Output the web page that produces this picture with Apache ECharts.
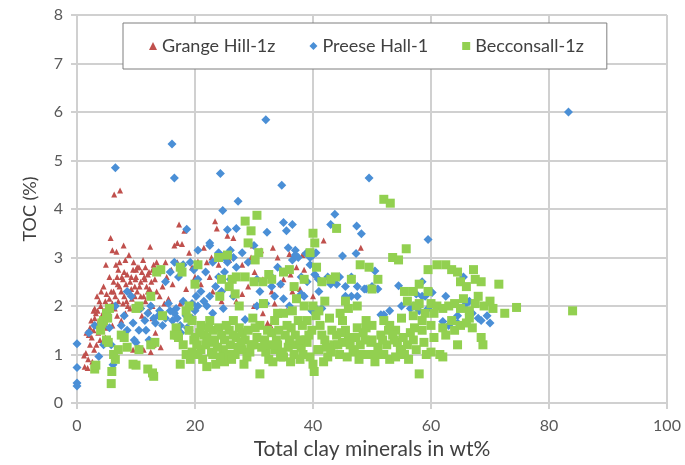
<!DOCTYPE html>
<html>
<head>
<meta charset="utf-8">
<script src="https://cdn.jsdelivr.net/npm/echarts@6/dist/echarts.min.js"></script>
<style>html,body{margin:0;padding:0;background:#fff;}#c{width:685px;height:465px;}</style>
</head>
<body>
<div id="c"></div>
<script>
// Series names
const seriesNames = ["Grange Hill-1z", "Preese Hall-1", "Becconsall-1z"];
// Axis tick values
const xTicks = [0, 20, 40, 60, 80, 100];
const yTicks = [0, 1, 2, 3, 4, 5, 6, 7, 8];

// [total clay wt%, TOC %]
const grangeHill = [
[1.2,0.98],[1.5,1.03],[1.3,0.75],[1.8,0.72],[2.6,0.85],[2.2,1.2],[2.5,1.35],[2.0,1.4],[1.6,1.45],[2.2,1.55],[2.8,1.5],[3.3,1.2],[3.6,1.45],[3.0,1.75],[3.2,1.85],[3.5,1.9],[3.0,1.95],[3.8,1.7],[4.0,2.0],[4.2,1.8],[4.3,1.5],[4.8,1.35],[3.8,2.1],[4.5,2.4],[4.8,2.1],[5.0,2.25],[5.3,1.95],[5.2,1.8],[5.0,1.55],[5.5,2.15],[5.8,2.3],[6.0,2.05],[6.0,1.6],[6.2,2.5],[6.4,1.95],[6.5,2.2],[6.8,2.6],[7.0,2.1],[7.0,2.75],[7.2,2.4],[7.2,2.9],[7.5,2.3],[7.5,1.7],[7.8,2.55],[7.8,2.05],[8.0,2.2],[8.2,1.85],[8.3,2.45],[8.5,2.65],[8.6,2.0],[8.8,2.3],[9.0,2.5],[9.0,1.95],[9.3,2.15],[9.5,2.75],[9.6,2.9],[9.8,2.4],[9.8,2.2],[10.0,2.6],[10.2,2.3],[10.2,2.8],[10.5,2.8],[10.5,2.0],[10.8,2.5],[11.0,2.7],[11.0,1.8],[11.2,2.95],[11.3,2.2],[11.5,2.55],[11.6,2.1],[11.8,2.4],[12.0,2.65],[12.0,2.3],[12.3,2.35],[12.6,2.5],[12.8,2.0],[12.8,2.75],[13.0,2.85],[13.2,2.55],[13.5,2.3],[13.5,2.9],[13.8,2.7],[14.0,1.95],[14.5,2.4],[14.8,2.05],[15.2,2.6],[15.5,2.15],[16.2,2.45],[17.5,2.05],[9.5,1.1],[10.5,1.15],[11.3,1.1],[12.5,1.05],[13.0,1.2],[14.2,1.15],[5.5,2.6],[4.9,2.85],[5.7,3.4],[6.0,3.15],[6.7,3.12],[7.9,3.25],[8.8,3.05],[6.3,4.3],[7.3,4.38],[12.4,3.22],[16.5,3.25],[17.0,3.3],[17.3,3.68],[17.8,3.28],[18.2,3.55],[18.5,2.35],[19.5,2.8],[20.5,2.92],[21.0,2.45],[21.5,3.2],[22.0,2.9],[22.5,2.6],[22.8,3.0],[23.4,3.75],[23.7,3.6],[24.0,2.85],[24.5,2.1],[25.5,2.4],[25.5,3.45],[25.8,2.95],[27.2,2.6],[28.0,2.85],[28.0,2.25],[29.0,2.4],[29.8,3.25],[30.0,2.0],[30.1,2.7],[31.2,3.15],[31.5,2.55],[31.5,1.85],[32.3,1.65],[32.8,1.6],[33.0,2.3],[33.2,3.2],[33.5,2.05],[34.5,2.45],[35.0,2.55],[36.0,3.07],[36.2,2.65],[37.2,2.8],[37.8,2.35],[38.2,3.05],[38.5,2.75],[40.0,2.2],[41.8,3.35],[48.1,3.2],[8.0,2.7],[9.2,2.6],[10.8,2.2],[6.8,1.8],[3.4,1.6],[4.6,1.9],[12.2,1.9],[14.0,2.2],[15.0,2.9],[16.0,2.75],[17.0,2.9],[19.0,3.1],[20.0,2.6],[23.0,2.3],[26.5,3.4],[27.0,2.1],[29.5,3.0],[34.0,3.0],[36.5,2.3],[40.5,2.65],[35.5,1.9],
[2.4,1.7],[2.8,1.9],[3.4,2.2],[4.1,2.3],[5.6,2.0],[6.2,2.3],[6.9,2.45],[7.6,2.6],[8.4,2.1],[9.2,2.35],[9.9,2.55],[10.6,2.4],[11.4,2.6],[12.2,2.7],[6.6,2.85],[8.2,2.95],[10.0,2.75],[11.6,2.8],[3.9,1.3],[1.9,0.9],[2.9,1.1],[13.3,1.45],[12.8,1.75]
];

const preeseHall = [
[0,1.22],[0,0.73],[0,0.41],[0,0.35],[3.7,0.96],[6.1,0.79],[2.0,1.45],[3.0,1.6],[4.5,1.2],[4.8,1.7],[5.5,1.55],[5.8,1.2],[6.5,2.0],[6.5,4.85],[7.5,1.6],[8.0,1.8],[8.5,1.5],[8.5,2.3],[9.2,2.2],[9.5,1.65],[9.7,1.3],[10.0,1.25],[10.5,1.5],[10.8,1.95],[11.5,1.7],[11.7,1.5],[12.0,1.85],[12.2,1.3],[12.5,2.0],[13.0,1.75],[13.3,1.65],[13.8,1.8],[14.0,1.9],[14.5,1.6],[15.0,1.75],[15.0,2.5],[15.5,2.05],[15.8,1.9],[15.8,2.7],[16.1,5.34],[16.5,4.64],[16.2,1.7],[16.5,1.85],[16.5,2.9],[16.8,1.95],[17.0,1.75],[17.2,2.6],[17.5,1.6],[17.6,1.45],[18.0,2.1],[18.0,2.85],[18.5,1.8],[18.6,3.58],[18.7,1.55],[19.0,1.5],[19.2,2.9],[19.5,2.05],[19.5,1.75],[19.8,2.75],[20.0,1.9],[20.2,2.2],[20.5,2.55],[20.5,3.15],[20.5,2.0],[21.0,2.3],[21.5,2.1],[21.8,2.7],[22.0,2.0],[22.5,2.2],[22.5,3.25],[22.5,3.3],[23.0,1.85],[23.0,2.9],[23.5,2.4],[24.0,2.6],[24.0,3.1],[24.3,4.73],[24.5,2.3],[24.7,3.97],[24.8,1.95],[25.0,2.7],[25.0,3.0],[25.5,2.9],[25.5,3.57],[26.0,2.55],[26.0,3.15],[26.5,3.0],[26.5,2.2],[27.0,2.8],[27.0,3.6],[27.3,4.16],[28.0,3.1],[28.5,1.72],[29.0,2.9],[30.0,3.25],[30.5,2.0],[30.5,2.55],[31.0,2.3],[32.0,5.84],[32.0,2.05],[32.2,3.52],[33.0,2.6],[33.0,2.4],[33.5,2.2],[34.0,2.8],[34.5,2.45],[34.7,4.49],[35.0,3.72],[35.0,2.15],[35.5,3.55],[35.8,3.2],[36.0,2.0],[36.5,3.68],[36.5,2.95],[37.0,3.05],[37.0,3.15],[37.5,3.0],[38.0,2.6],[38.0,2.25],[38.5,2.2],[38.8,3.08],[39.0,2.5],[39.5,2.85],[39.5,3.0],[39.8,1.9],[40.0,3.05],[40.3,2.65],[40.5,3.1],[40.5,1.95],[40.9,2.55],[41.0,2.3],[41.5,1.95],[42.5,2.6],[43.0,3.68],[43.0,2.45],[43.7,3.89],[44.0,2.45],[44.5,2.6],[45.0,3.03],[45.5,2.2],[45.5,2.4],[46.5,2.6],[46.5,2.2],[47.3,3.08],[47.4,3.65],[47.5,2.2],[47.5,2.4],[48.2,3.49],[48.7,2.35],[49.0,2.35],[49.5,4.64],[50.0,2.4],[50.5,2.72],[51.0,2.35],[51.5,1.82],[52.0,1.82],[53.0,1.9],[54.5,2.42],[55.0,2.0],[56.5,1.95],[57.0,2.0],[57.5,2.25],[58.0,1.9],[58.5,2.5],[58.5,2.2],[59.0,2.2],[59.5,3.37],[59.5,1.95],[60.2,2.28],[62.0,1.68],[62.5,2.2],[63.0,1.6],[64.5,1.65],[64.5,1.8],[65.5,2.6],[66.0,2.05],[66.5,2.1],[67.0,1.85],[68.0,1.75],[68.5,1.7],[69.5,1.8],[70.0,1.65],[83.3,6.0]
];

const becconsall = [
[3,0.7],[3.2,0.78],[4,1.5],[4.2,1.65],[4.5,1.7],[5,1.85],[5.2,1.75],[5.5,1.95],[5,1.3],[5.3,1.25],[5.8,0.4],[5.9,0.65],[6.2,1.0],[6.5,0.9],[7,1.1],[7.5,1.4],[8,1.35],[8.5,1.15],[9.5,0.8],[10,0.78],[10.5,1.1],[10,1.95],[10.5,2.0],[12,0.7],[12.5,1.2],[13,0.55],[13.2,1.25],[12.8,0.62],[12.5,2.2],[13.5,2.7],[14.2,2.75],[14.5,1.8],[16.5,1.4],[16.8,1.55],[17,1.4],[17.2,1.35],[17.5,2.8],[17.5,0.8],[17.8,2.7],
[18.5,1.9],[18.8,1.75],[19,2.0],[18.5,1.0],[19,1.5],[19.5,1.05],[19.8,1.3],[20,1.35],[20.5,2.85],[20.5,1.0],[21,1.1],[21,1.6],[21.5,1.4],[21.8,1.2],[22,0.75],[22,1.35],[22.5,1.25],[22.8,1.05],[23,1.0],[23,1.5],[23.3,1.3],[23.5,0.8],[24,1.55],[24,3.0],[24.2,2.2],[24.5,1.4],[24.5,2.55],[24.8,1.1],[25,0.85],[25,1.3],[25.5,3.05],[25.5,1.0],[25.8,1.5],[26,1.2],[26.3,2.55],[26.5,1.4],[26.8,1.0],[27,1.35],[27,2.6],[27.3,1.15],[27.5,1.55],[28,1.1],[28,1.45],[28.5,3.75],[28.5,1.3],[28.8,0.95],[29,1.5],[29,3.3],[29.5,3.55],[29.5,1.2],[30,1.2],[30,2.5],[30.5,3.87],[30.5,1.35],[30.8,3.1],[31,0.6],[31,1.6],
[31.5,2.5],[31.8,1.3],[32,1.05],[32.3,1.5],[32.5,0.9],[33,1.45],[33,2.55],[33.5,1.1],[33.8,1.3],[34,1.2],[34,1.85],[34.5,0.95],[35,0.95],[35,1.85],[35,2.7],[35.3,1.4],[35.8,1.15],[36,1.3],[36,2.75],[36.5,1.9],[36.8,1.0],[37,1.4],[37.2,1.2],[37.5,1.7],[37.8,0.9],[38,1.15],[38.5,2.0],[38.5,2.55],[38.8,1.3],[39,1.25],[39,1.7],[39.5,0.95],[39.8,1.5],[40,0.8],[40,2.0],[40,3.5],[40.2,0.65],[40.3,3.3],[40.5,1.8],[40.8,1.1],[41,1.1],[41,1.9],[41.5,1.4],[42,1.3],[42,2.1],[42.5,0.95],[43,1.05],[43,2.55],[43.5,1.2],[43.8,2.6],[44,1.4],[44,3.6],[44.5,1.0],[45,1.25],[45,1.7],
[45.5,1.5],[46,1.35],[46,1.95],[46.5,2.55],[46.8,1.1],[47,1.05],[47.5,1.55],[47.8,0.9],[48,1.2],[48,2.85],[48.5,1.45],[49,1.55],[49.5,1.0],[49.5,2.8],[49.8,1.25],[50,1.3],[50,1.6],[50,2.35],[50.5,0.85],[51,1.15],[51,2.55],[51.5,1.4],[52,1.0],[52,1.7],[52,4.2],[52.5,1.2],[53,0.9],[53,1.6],[53.1,4.12],[53.5,3.0],[53.8,1.3],[54,0.95],[54,1.5],[54.5,2.95],[54.8,1.1],[55,1.1],[55,1.75],[55.5,2.3],[55.8,3.18],[56,1.2],[56,2.1],[56.5,1.45],[57,2.3],[57,1.8],[57.5,1.1],[57.5,2.0],[58,0.6],[58,2.05],[58,2.45],[58.5,1.5],[59,1.85],[59.5,2.75],[60,1.05],[60,1.6],[60,2.05],
[61,2.0],[61,2.85],[61.5,1.0],[62,0.95],[62,1.55],[62,1.95],[62.5,1.4],[62.5,2.85],[63,2.0],[63.5,2.75],[64,1.5],[64,2.05],[64.5,2.7],[65,1.6],[65,2.5],[65.5,2.15],[66,1.65],[66,2.4],[66.5,1.9],[67.2,2.75],[67.5,2.55],[67.5,2.05],[68,2.2],[68.5,2.5],[68.5,1.35],[68.8,1.2],[69,2.0],[70,2.1],[70.5,1.95],[71.5,2.45],[72.5,1.85],[74.5,1.97],[84,1.9],
[58.5,1.7],[59.5,2.3],[60.5,1.85],[63.5,1.7],[65,1.95],[66.5,1.75],[67,1.55],[64.5,1.2],[60.5,1.35],[57,1.3],[55.5,1.0],[53.5,1.4],[49,1.7],[47.5,2.0],
[18,1.2],[19.2,0.9],[20.3,1.2],[20.8,1.45],[21.3,0.9],[22.3,1.55],[23.8,1.15],[24.3,0.95],[25.3,1.6],[26.2,0.9],[27.8,1.25],[28.3,0.8],[29.3,1.05],[30.2,1.55],[31.3,1.15],[32.8,1.2],[33.2,0.85],[34.2,1.5],[34.8,1.05],[36.3,1.55],[36.2,0.85],[37.8,1.3],[38.3,1.0],[39.3,1.4],[41.2,1.6],[41.8,0.85],[42.3,1.15],[43.2,1.5],[44.2,1.2],[44.8,1.45],[45.8,0.95],[46.3,1.2],[47.2,1.35],[48.2,1.0],[48.8,1.3],[50.8,1.0],[51.8,1.3],[52.8,1.5],[54.3,1.25],[55.3,1.35],[56.2,0.9],[57.2,1.55],[58.8,1.25],[59.2,1.0],[19.5,1.7],[22.5,1.7],[26.5,1.7],[29.8,1.75],[33.5,1.7],[35.6,1.6],[38.2,1.6],[42.8,1.75],[44.6,1.85],[27.5,2.0],[31.6,2.05],[32.5,2.65],[37.2,2.15],[41.5,2.5],[45.5,2.1],[39.5,3.1],[40.6,2.8],[36.8,2.4],[26.8,2.25],[25.8,2.4],[28.5,2.6],[30.2,2.95],[20,2.45]
];

const FONT = 'Lato, "Open Sans", sans-serif';
const gridColor = '#d0d0d0';
const chart = echarts.init(document.getElementById('c'), null, {renderer: 'canvas'});
chart.setOption({
  animation: false,
  backgroundColor: '#ffffff',
  textStyle: {fontFamily: FONT},
  grid: {left: 77, right: 18, top: 15, bottom: 61, containLabel: false},
  legend: {
    left: 123, top: 23,
    padding: [14, 23, 14, 26],
    itemGap: 34, itemWidth: 8, itemHeight: 8,
    borderColor: '#7f7f7f', borderWidth: 1,
    backgroundColor: '#ffffff',
    textStyle: {fontSize: 18, color: '#404040', fontFamily: FONT},
    data: seriesNames
  },
  xAxis: {
    type: 'value', min: xTicks[0], max: xTicks[xTicks.length - 1], interval: xTicks[1] - xTicks[0],
    name: 'Total clay minerals in wt%', nameLocation: 'middle', nameGap: 36,
    nameTextStyle: {fontSize: 21, color: '#404040', fontFamily: FONT},
    axisLine: {show: true, lineStyle: {color: gridColor, width: 2}},
    axisTick: {show: true, length: 6, lineStyle: {color: gridColor, width: 2}},
    axisLabel: {fontSize: 16, color: '#595959', margin: 15, fontFamily: FONT},
    splitLine: {show: true, lineStyle: {color: gridColor, width: 2}}
  },
  yAxis: {
    type: 'value', min: yTicks[0], max: yTicks[yTicks.length - 1], interval: yTicks[1] - yTicks[0],
    name: 'TOC (%)', nameLocation: 'middle', nameGap: 38, nameRotate: 90,
    nameTextStyle: {fontSize: 18, color: '#404040', fontFamily: FONT},
    axisLine: {show: true, lineStyle: {color: gridColor, width: 2}},
    axisTick: {show: true, length: 6, lineStyle: {color: gridColor, width: 2}},
    axisLabel: {fontSize: 16, color: '#595959', margin: 14, fontFamily: FONT},
    splitLine: {show: true, lineStyle: {color: gridColor, width: 2}}
  },
  series: [
    {name: seriesNames[0], type: 'scatter', data: grangeHill, symbol: 'triangle', symbolSize: 6,
     itemStyle: {color: '#c0504d', opacity: 1}},
    {name: seriesNames[1], type: 'scatter', data: preeseHall, symbol: 'diamond', symbolSize: 9,
     itemStyle: {color: '#4a8fd6', opacity: 1}},
    {name: seriesNames[2], type: 'scatter', data: becconsall, symbol: 'rect', symbolSize: 9,
     itemStyle: {color: '#92d050', opacity: 1}}
  ]
});
</script>
</body>
</html>
